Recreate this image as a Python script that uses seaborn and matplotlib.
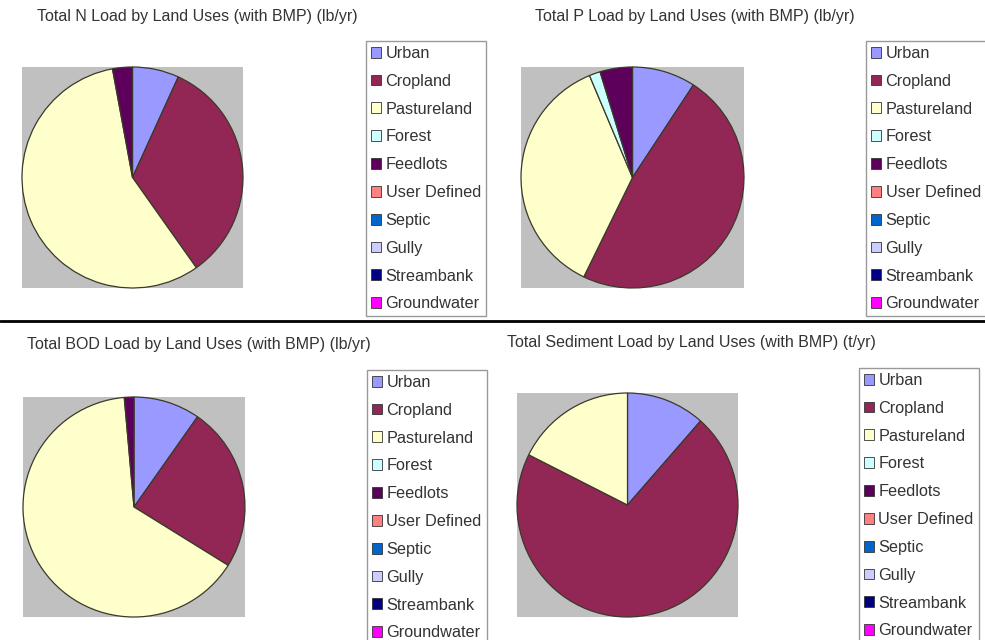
import numpy as np
import matplotlib
matplotlib.use('Agg')
import matplotlib.pyplot as plt
import seaborn as sns
from matplotlib.patches import Patch
from matplotlib.lines import Line2D

# land use categories, in legend order
land_uses = ['Urban', 'Cropland', 'Pastureland', 'Forest', 'Feedlots',
             'User Defined', 'Septic', 'Gully', 'Streambank', 'Groundwater']

# share of each load (%)
n_load = [6.8, 33.4, 56.9, 0, 2.9, 0, 0, 0, 0, 0]
p_load = [9.2, 48.0, 36.5, 1.6, 4.7, 0, 0, 0, 0, 0]
bod_load = [9.7, 24.2, 64.7, 0, 1.4, 0, 0, 0, 0, 0]
sed_load = [11.5, 70.9, 17.6, 0, 0, 0, 0, 0, 0, 0]

titles = ['Total N Load by Land Uses (with BMP) (lb/yr)',
          'Total P Load by Land Uses (with BMP) (lb/yr)',
          'Total BOD Load by Land Uses (with BMP) (lb/yr)',
          'Total Sediment Load by Land Uses (with BMP) (t/yr)']

sns.set_theme(style='white')
plt.rcParams['font.family'] = ['Liberation Sans', 'DejaVu Sans']

palette = sns.color_palette(['#9999ff', '#922655', '#ffffcc', '#ccffff', '#5c005c',
                             '#ff8080', '#0066cc', '#ccccff', '#000080', '#ff00ff'])

W, H = 985, 640
fig = plt.figure(figsize=(W / 100, H / 100), dpi=100)
fig.patch.set_facecolor('white')


def fx(x):
    return x / W


def fy(y):
    return 1 - y / H


# pixel layout of each panel: (box left, box top, box right, box bottom),
# title (x, y), legend (x, y)
panels = [
    (n_load, (22, 67, 243, 288), (37, 16), (366, 41)),
    (p_load, (521, 67, 744, 288), (535, 16), (866, 41)),
    (bod_load, (23, 397, 245, 617), (27, 345), (367, 370)),
    (sed_load, (517, 393, 738, 617), (507, 342), (859, 368)),
]

handles = [Patch(facecolor=c, edgecolor='#333333', linewidth=0.6) for c in palette]

for (vals, box, tpos, lpos), title in zip(panels, titles):
    l, t, r, b = box
    ax = fig.add_axes([fx(l), fy(b), fx(r - l), (b - t) / H])
    vals = np.array(vals, dtype=float)
    keep = vals > 0
    cols = [c for c, k in zip(palette, keep) if k]
    ax.pie(vals[keep], colors=cols, startangle=90, counterclock=False, radius=1,
           wedgeprops=dict(edgecolor='#3a3a2a', linewidth=0.9))
    ax.set_frame_on(True)
    ax.set_facecolor('#c0c0c0')
    ax.set_xlim(-1.0, 1.0)
    ax.set_ylim(-1.0, 1.0)
    ax.set_aspect('auto')
    for s in ax.spines.values():
        s.set_visible(False)
    ax.set_xticks([])
    ax.set_yticks([])

    fig.text(fx(tpos[0]), fy(tpos[1]), title, fontsize=11.5, color='#333333',
             ha='left', va='center')

    leg = fig.legend(handles, land_uses, loc='upper left',
                     bbox_to_anchor=(fx(lpos[0]), fy(lpos[1])),
                     fontsize=11.7, frameon=True, fancybox=False,
                     handlelength=0.65, handleheight=0.65, handletextpad=0.25,
                     labelspacing=0.79, borderpad=0.3, borderaxespad=0)
    leg.get_frame().set_edgecolor('#808080')
    leg.get_frame().set_linewidth(1.0)
    for txt in leg.get_texts():
        txt.set_color('#333333')

# separator between the two rows
fig.add_artist(Line2D([0, 1], [fy(321), fy(321)], transform=fig.transFigure,
                      color='black', linewidth=2))

fig.savefig('out.png', dpi=100, facecolor='white')
